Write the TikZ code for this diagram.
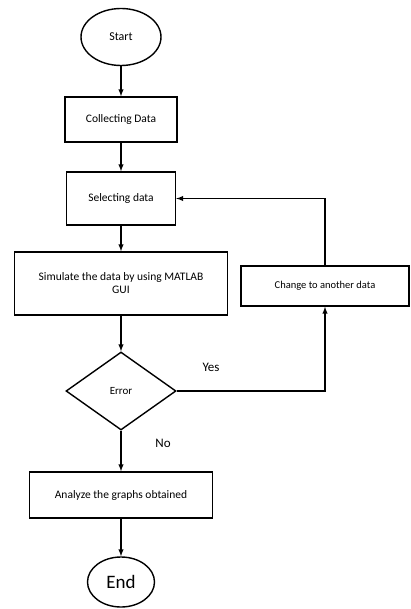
\documentclass[tikz,border=0pt]{standalone}
\usepackage{fontspec}
\setmainfont{Carlito}
\usetikzlibrary{shapes.geometric}
\begin{document}
\begin{tikzpicture}[x=1pt, y=-1pt, >=latex]
      \tikzset{
  every block/.style={
    rectangle,
    draw,
    line width=1.4pt,
    font=\fontsize{11.5}{13}\selectfont,
    inner sep=2pt
  },
  terminal/.style={
    ellipse,
    draw,
    line width=1.4pt
  },
  decision/.style={
    diamond,
    draw,
    line width=1.4pt,
    aspect=1.4,
    minimum width=110pt,
    minimum height=78pt,
    inner sep=0pt,
    font=\fontsize{11}{13}\selectfont
  },
  flow/.style={
    ->,
    line width=1.4pt
  }
}

\useasboundingbox (0,0) rectangle (410,609);

\node [terminal, minimum width=80pt, minimum height=57pt, font=\fontsize{12}{14}\selectfont] (start) at (121,37) {Start};
\node [every block, minimum width=112pt, minimum height=45pt] (collect) at (121,119.5) {Collecting Data};
\node [every block, minimum width=109pt, minimum height=53pt] (select) at (121,198.5) {Selecting data};
\node [every block, minimum width=213pt, minimum height=63pt, align=center] (simulate) at (121,283.5) {Simulate the data by using MATLAB\\GUI};
\node [every block, minimum width=168pt, minimum height=40pt, font=\fontsize{10.5}{12}\selectfont] (change) at (325,286) {Change to another data};
\node [decision] (error) at (121,391) {Error};
\node [every block, minimum width=183pt, minimum height=46pt] (analyze) at (121,495) {Analyze the graphs obtained};
\node [terminal, minimum width=67pt, minimum height=50pt, font=\fontsize{19}{21}\selectfont] (end) at (121,582) {End};

% main column
\foreach \a/\b in {start/collect, collect/select, select/simulate, simulate/error, error/analyze, analyze/end}
  \draw [flow] (\a) -- (\b);

% loop back
\draw [flow] (error.east) -| (change.south);
\draw [flow] (change.north) |- (select.east);

\node [font=\fontsize{13}{15}\selectfont] (yes) at (211,367) {Yes};
\node [font=\fontsize{13}{15}\selectfont] (no) at (163,443) {No};
      \end{tikzpicture}
\end{document}
